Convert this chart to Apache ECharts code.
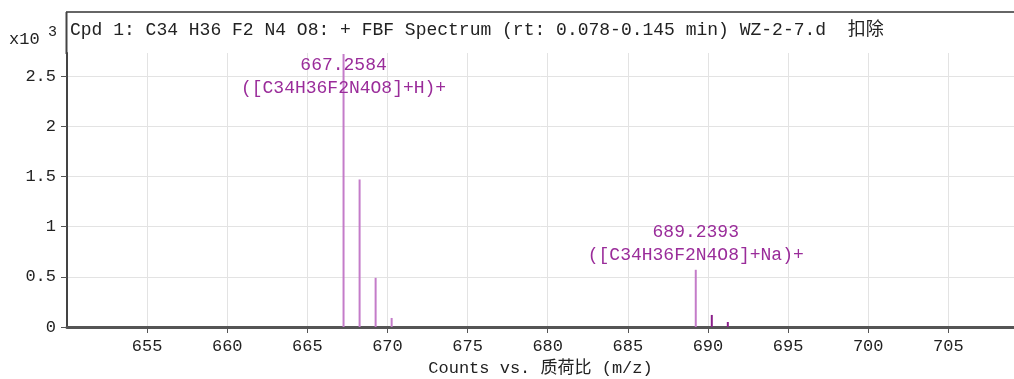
<!DOCTYPE html>
<html>
<head>
<meta charset="utf-8">
<script src="https://cdn.jsdelivr.net/npm/echarts@6/dist/echarts.min.js"></script>
<style>
  html, body { margin: 0; padding: 0; background: #fff; }
  #chart { width: 1014px; height: 379px; }
</style>
</head>
<body>
<div id="chart"></div>
<script>
// peak m/z and counts (x10^3)
const mzValues = [667.2584, 668.26, 669.26, 670.26, 689.2393, 690.24, 691.24];
const counts = [2.72, 1.47, 0.49, 0.09, 0.57, 0.12, 0.05];
const peakLabels = ['667.2584\n([C34H36F2N4O8]+H)+', '', '', '', '689.2393\n([C34H36F2N4O8]+Na)+', '', ''];
const titleText = 'Cpd 1: C34 H36 F2 N4 O8: + FBF Spectrum (rt: 0.078-0.145 min) WZ-2-7.d  扣除';
const xName = 'Counts vs. 质荷比 (m/z)';

const FONT = '"Liberation Mono", "Noto Sans CJK SC", monospace';
const light = '#c47cc9';
const dark = '#8a1f8a';
const labelColor = '#9a2c9a';

let myChart = echarts.init(document.getElementById('chart'));

const barData = mzValues.map((mz, i) => {
  const item = {
    value: [mz, counts[i]],
    itemStyle: { color: i === 5 || i === 6 ? dark : light }
  };
  if (peakLabels[i]) {
    item.label = {
      show: true,
      formatter: peakLabels[i],
      position: i === 0 ? 'insideTop' : 'top',
      distance: i === 0 ? 0 : 3,
      color: labelColor,
      fontFamily: FONT,
      fontSize: 18,
      lineHeight: 23
    };
  }
  return item;
});

// 7 y ticks (0..2.5 plus max), last one hidden
const yGridColors = ['#e3e3e3', '#e3e3e3', '#e3e3e3', '#e3e3e3', '#e3e3e3', '#e3e3e3', 'rgba(0,0,0,0)'];
const xGridColors = [];
for (let i = 0; i < 12; i++) xGridColors.push('#e3e3e3');
xGridColors.push('rgba(0,0,0,0)');

myChart.setOption({
  animation: false,
  grid: { left: 67, right: 0, top: 53, bottom: 52, outerBoundsMode: 'none' },
  xAxis: {
    type: 'value',
    min: 650,
    max: 709.1,
    interval: 5,
    name: xName,
    nameLocation: 'middle',
    nameGap: 31,
    nameTextStyle: { fontFamily: FONT, fontSize: 17, color: '#222' },
    axisLine: { show: true, lineStyle: { color: '#555', width: 3 } },
    axisTick: { show: true, length: 6, lineStyle: { color: '#555' } },
    axisLabel: {
      fontFamily: FONT, fontSize: 17, color: '#222', margin: 11,
      showMinLabel: false, showMaxLabel: false
    },
    splitLine: { show: true, lineStyle: { color: xGridColors, width: 1 } }
  },
  yAxis: {
    type: 'value',
    min: 0,
    max: 2.73,
    interval: 0.5,
    axisLine: { show: true, lineStyle: { color: '#444', width: 2 } },
    axisTick: { show: true, length: 6, lineStyle: { color: '#555' } },
    axisLabel: {
      fontFamily: FONT, fontSize: 17, color: '#222', margin: 11,
      showMaxLabel: false
    },
    splitLine: { show: true, lineStyle: { color: yGridColors, width: 1 } }
  },
  graphic: [
    { type: 'line', shape: { x1: 66, y1: 12, x2: 1014, y2: 12 }, style: { stroke: '#666', lineWidth: 2 }, z: 100 },
    { type: 'line', shape: { x1: 66.5, y1: 12, x2: 66.5, y2: 54 }, style: { stroke: '#444', lineWidth: 2 }, z: 100 },
    { type: 'text', left: 70, top: 21, style: { text: titleText, font: '18px ' + FONT, fill: '#222' } },
    { type: 'text', left: 9, top: 31, style: { text: 'x10', font: '17px ' + FONT, fill: '#222' } },
    { type: 'text', left: 48, top: 25, style: { text: '3', font: '15px ' + FONT, fill: '#222' } }
  ],
  series: [{
    type: 'bar',
    barWidth: 2,
    data: barData
  }]
});
</script>
</body>
</html>
